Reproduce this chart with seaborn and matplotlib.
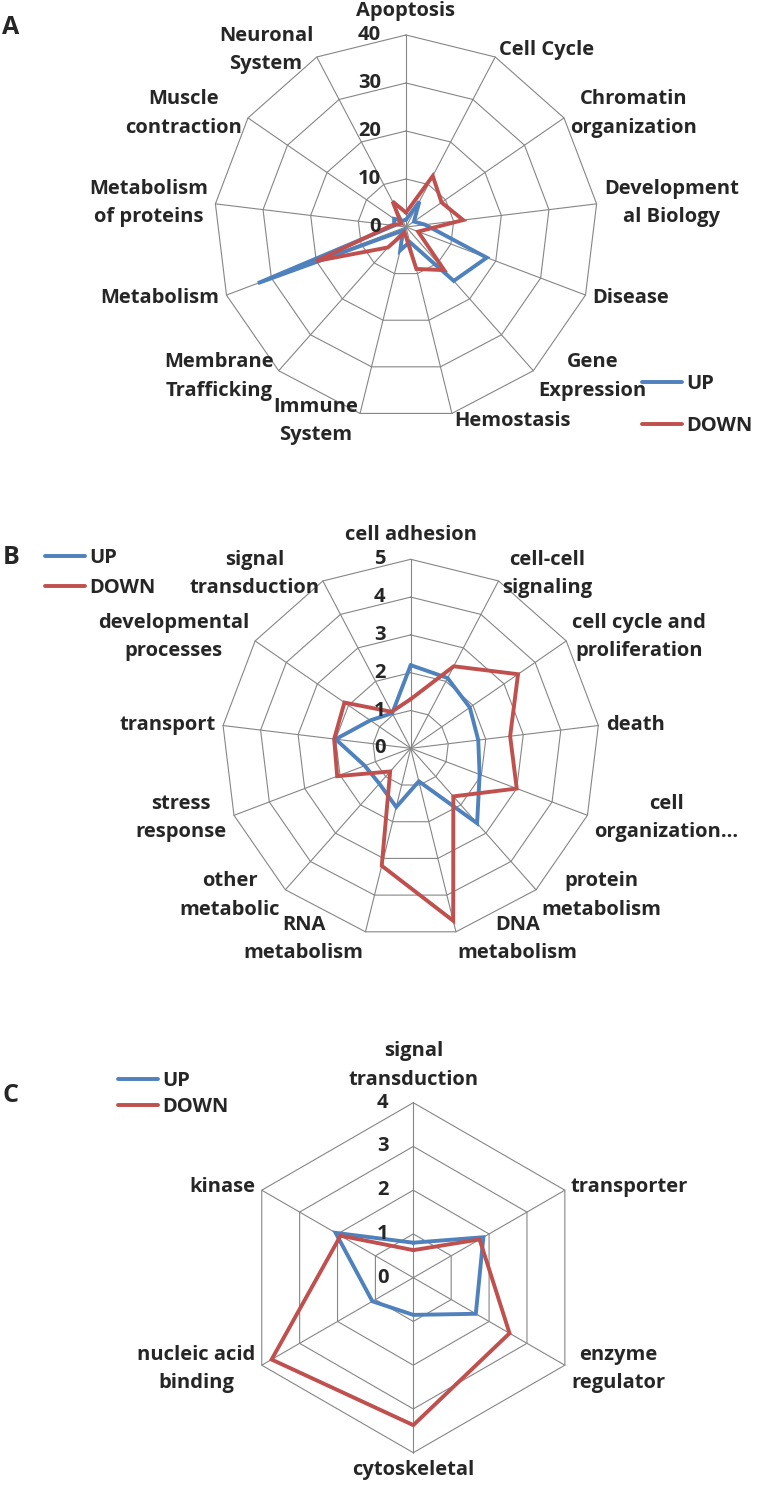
import numpy as np
import matplotlib
matplotlib.use("Agg")
import matplotlib.pyplot as plt
import seaborn as sns
import pandas as pd

sns.set_theme(style="white")
FONT = ["Open Sans", "DejaVu Sans"]
plt.rcParams["font.family"] = FONT
plt.rcParams["font.weight"] = "bold"

# ---------------- data ----------------
a_categories = ["Apoptosis", "Cell Cycle", "Chromatin\norganization", "Development\nal Biology",
                "Disease", "Gene\nExpression", "Hemostasis", "Immune\nSystem",
                "Membrane\nTrafficking", "Metabolism", "Metabolism\nof proteins",
                "Muscle\ncontraction", "Neuronal\nSystem"]
a_up = [1.5, 6, 2, 4, 18, 15, 3.2, 5, 1, 33, 2.5, 3, 1.5]
a_down = [3, 12, 9, 12, 2.7, 12, 9, 1.2, 5.7, 20, 3, 1.2, 6]
a_ticks = [0, 10, 20, 30, 40]

b_categories = ["cell adhesion", "cell-cell\nsignaling", "cell cycle and\nproliferation", "death",
                "cell\norganization\u2026", "protein\nmetabolism", "DNA\nmetabolism",
                "RNA\nmetabolism", "other\nmetabolic", "stress\nresponse", "transport",
                "developmental\nprocesses", "signal\ntransduction"]
b_up = [2.2, 2.1, 1.9, 1.8, 1.95, 2.65, 0.9, 1.6, 1.25, 1.3, 2.0, 1.3, 1.05]
b_down = [1.3, 2.45, 3.45, 2.65, 3.0, 1.7, 4.7, 3.2, 0.82, 2.08, 2.04, 2.13, 1.09]
b_ticks = [0, 1, 2, 3, 4, 5]

c_categories = ["signal\ntransduction", "transporter", "enzyme\nregulator", "cytoskeletal",
                "nucleic acid\nbinding", "kinase"]
c_up = [0.8, 1.85, 1.65, 0.85, 1.08, 2.05]
c_down = [0.63, 1.75, 2.54, 3.37, 3.74, 1.92]
c_ticks = [0, 1, 2, 3, 4]

series_names = ["UP", "DOWN"]

# ---------------- drawing ----------------
W, H = 763, 1487
fig = plt.figure(figsize=(W / 100, H / 100), dpi=100)
BLUE, RED, GRID = "#4F81BD", "#C0504D", "#868686"
FS = 14.5


def radar(cx, cy, R, cats, up, down, ticks, leg_x, leg_y, leg_space, letter, letter_xy):
    ax = fig.add_axes([(cx - R) / W, 1 - (cy + R) / H, 2 * R / W, 2 * R / H], projection="polar")
    n = len(cats)
    theta = np.linspace(0, 2 * np.pi, n, endpoint=False)
    th_closed = np.append(theta, 2 * np.pi)
    rmax = ticks[-1]
    ax.set_theta_zero_location("N")
    ax.set_theta_direction(-1)
    ax.set_ylim(0, rmax)
    ax.grid(False)
    ax.set_xticks([])
    ax.set_yticks([])
    ax.spines["polar"].set_visible(False)
    ax.patch.set_alpha(0)

    for t in ticks[1:]:
        ax.plot(th_closed, [t] * (n + 1), color=GRID, lw=0.8, zorder=1, clip_on=False)
    for th in theta:
        ax.plot([th, th], [0, rmax], color=GRID, lw=0.8, zorder=1, clip_on=False)

    df = pd.DataFrame({
        "theta": np.concatenate([th_closed, th_closed]),
        "value": list(up) + [up[0]] + list(down) + [down[0]],
        "series": [series_names[0]] * (n + 1) + [series_names[1]] * (n + 1),
    })
    sns.lineplot(data=df, x="theta", y="value", hue="series", hue_order=series_names,
                 palette={"UP": BLUE, "DOWN": RED}, sort=False, estimator=None,
                 lw=2.8, ax=ax, legend=False, zorder=3)
    for ln in ax.lines[-2:]:
        ln.set_clip_on(False)
        ln.set_solid_joinstyle("miter")
    ax.set_xlabel("")
    ax.set_ylabel("")

    for t in ticks:
        ax.annotate(str(t), xy=(0, t), xytext=(-18, 0), textcoords="offset points",
                    ha="right", va="center", fontsize=FS, fontweight="bold", zorder=5)

    for th, lab in zip(theta, cats):
        s, c = np.sin(th), np.cos(th)
        if s > 0.05:
            ha = "left"
        elif s < -0.05:
            ha = "right"
        else:
            ha = "center"
        pad = 1.04
        if abs(s) <= 0.05:
            va = "bottom" if c > 0 else "top"
            pad = 1.075 if c > 0 else 1.04
        else:
            va = "center"
        ax.text(th, rmax * pad, lab, ha=ha, va=va, multialignment="center",
                fontsize=FS, fontweight="bold", linespacing=1.55, clip_on=False)

    handles = ax.lines[-2:]
    fig.legend(handles, series_names, loc="center left",
               bbox_to_anchor=(leg_x / W, 1 - leg_y / H), bbox_transform=fig.transFigure,
               frameon=False, borderpad=0, borderaxespad=0, handlelength=2.0,
               handletextpad=0.2, labelspacing=leg_space,
               prop={"weight": "bold", "size": FS, "family": FONT})
    fig.text(letter_xy[0] / W, 1 - letter_xy[1] / H, letter, ha="center", va="center",
             fontsize=18, fontweight="bold")
    return ax


radar(406, 227, 192, a_categories, a_up, a_down, a_ticks, 642, 405, 1.05, "A", (11, 27))
radar(410.7, 748.3, 189, b_categories, b_up, b_down, b_ticks, 45, 573, 0.5, "B", (11, 558))
radar(413.3, 1277.7, 175, c_categories, c_up, c_down, c_ticks, 118, 1094, 0.27, "C", (11, 1095))

fig.savefig("out.png", dpi=100)
